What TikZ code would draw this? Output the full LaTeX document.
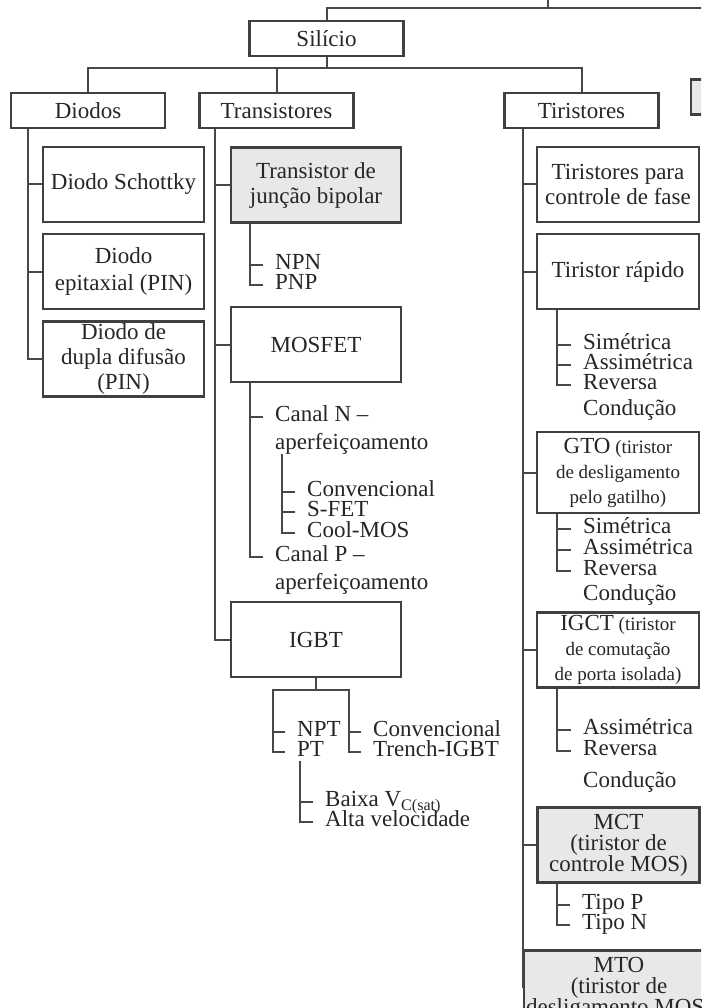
\documentclass[tikz,border=0pt]{standalone}
\usepackage{fontspec}
\setmainfont{Liberation Serif}
\usetikzlibrary{positioning}

\begin{document}
\begin{tikzpicture}[x=1pt, y=-1pt,
    every node/.style={text=black!85, font=\fontsize{23}{25}\selectfont},
    box/.style={rectangle, draw=black!75, line width=2.2pt, align=center, inner sep=2pt, minimum height=75pt},
    top/.style={box, minimum width=154pt, minimum height=35pt},
    dio/.style={box, minimum width=161pt, font=\fontsize{23}{27}\selectfont},
    tra/.style={box, minimum width=170pt},
    tir/.style={box, minimum width=162pt},
    shade/.style={fill=black!9},
    tight/.style={font=\fontsize{23}{21}\selectfont},
    small/.style={font=\fontsize{19}{25}\selectfont},
    item/.style={anchor=west, inner xsep=12pt, inner ysep=0pt, text height=13pt, text depth=4pt},
    line/.style={draw=black!72, line width=2pt}
  ]
  \useasboundingbox (0,0) rectangle (701,1008);
  \fill[white] (0,0) rectangle (701,1008);
  \clip (0,0) rectangle (701,1008);

  \node[top] (silicio) at (326.5,38.5) {Silício};
  \node[top] (diodos) at (88,110.5) {Diodos};
  \node[top] (transistores) at (276.5,110.5) {Transistores};
  \node[top] (tiristores) at (581.5,110.5) {Tiristores};
  \node[top, shade] (outro) at (768,97) {};

  \coordinate (raiz) at (548,-10);
  \coordinate (barra) at (548,8);
  \coordinate (ramo) at (silicio.south |- 0,68);

  \draw[line] (raiz) -- (barra);
  \draw[line] (barra) -| (silicio.north);
  \draw[line] (barra) -| (outro.north);
  \draw[line] (silicio.south) -- (ramo);
  \draw[line] (ramo) -| (diodos.north);
  \draw[line] (ramo) -| (transistores.north);
  \draw[line] (ramo) -| (tiristores.north);

  % diodos
  \node[dio] (schottky) at (123.5,184.5) {Diodo Schottky};
  \node[dio] (epitaxial) at (123.5,271.5) {Diodo\\epitaxial (PIN)};
  \node[dio, inner ysep=0pt, font=\fontsize{23}{25}\selectfont] (dupla) at (123.5,359) {Diodo de\\dupla difusão\\(PIN)};

  \draw[line] (diodos.south -| 28,0) |- (dupla.west);
  \draw[line] (schottky.west) -- (schottky.west -| 28,0);
  \draw[line] (epitaxial.west) -- (epitaxial.west -| 28,0);

  % transistores
  \node[tra, shade] (bjt) at (316,185) {Transistor de\\junção bipolar};
  \node[tra] (mosfet) at (316,344.5) {MOSFET};
  \node[tra] (igbt) at (316,639.5) {IGBT};

  \draw[line] (transistores.south -| 215,0) |- (igbt.west);
  \draw[line] (bjt.west) -- (bjt.west -| 215,0);
  \draw[line] (mosfet.west) -- (mosfet.west -| 215,0);

  \node[item] (npn) at (263,265) {NPN};
  \node[item] (pnp) at (263,285) {PNP};
  \draw[line] (bjt.south -| 250,0) |- (pnp.west);
  \draw[line] (npn.west) -- (npn.west -| 250,0);

  \node[item] (canaln) at (263,417) {Canal N –};
  \node[item] (canalnb) at (263,445) {aperfeiçoamento};
  \node[item] (conv) at (295,492) {Convencional};
  \node[item] (sfet) at (295,512) {S-FET};
  \node[item] (coolmos) at (295,533) {Cool-MOS};
  \node[item] (canalp) at (263,557) {Canal P –};
  \node[item] (canalpb) at (263,585) {aperfeiçoamento};
  \draw[line] (mosfet.south -| 250,0) |- (canalp.west);
  \draw[line] (canaln.west) -- (canaln.west -| 250,0);
  \draw[line] (canalnb.south -| 282,0) |- (coolmos.west);
  \draw[line] (conv.west) -- (conv.west -| 282,0);
  \draw[line] (sfet.west) -- (sfet.west -| 282,0);

  \coordinate (igbtbus) at (igbt.south |- 0,690);
  \node[item] (npt) at (285,732) {NPT};
  \node[item] (pt) at (285,752) {PT};
  \node[item] (conv2) at (361,732) {Convencional};
  \node[item] (trench) at (361,752) {Trench-IGBT};
  \draw[line] (igbt.south) -- (igbtbus);
  \draw[line] (igbtbus) -| (pt.west -| 273,0) -- (pt.west);
  \draw[line] (igbtbus) -| (trench.west -| 349,0) -- (trench.west);
  \draw[line] (npt.west) -- (npt.west -| 273,0);
  \draw[line] (conv2.west) -- (conv2.west -| 349,0);

  \node[item] (baixa) at (313,802) {Baixa V\textsubscript{C(sat)}};
  \node[item] (alta) at (313,822) {Alta velocidade};
  \draw[line] (pt.south -| 300,0) |- (alta.west);
  \draw[line] (baixa.west) -- (baixa.west -| 300,0);

  % tiristores
  \node[tir] (fase) at (618,184.5) {Tiristores para\\controle de fase};
  \node[tir] (rapido) at (618,271.5) {Tiristor rápido};
  \node[tir, small, minimum height=81pt] (gto) at (618,472.5) {{\fontsize{23}{25}\selectfont GTO} (tiristor\\de desligamento\\pelo gatilho)};
  \node[tir, small] (igct) at (618,650) {{\fontsize{23}{27}\selectfont IGCT} (tiristor\\de comutação\\de porta isolada)};
  \node[tir, shade, tight] (mct) at (618.5,845) {MCT\\(tiristor de\\controle MOS)};
  \node[tir, shade, tight] (mto) at (619,988) {MTO\\(tiristor de\\desligamento MOS)};

  \draw[line] (tiristores.south -| 523,0) |- (mto.west);
  \draw[line] (fase.west) -- (fase.west -| 523,0);
  \draw[line] (rapido.west) -- (rapido.west -| 523,0);
  \draw[line] (gto.west) -- (gto.west -| 523,0);
  \draw[line] (igct.west) -- (igct.west -| 523,0);
  \draw[line] (mct.west) -- (mct.west -| 523,0);

  \node[item] (sim1) at (571,345) {Simétrica};
  \node[item] (ass1) at (571,365) {Assimétrica};
  \node[item] (rev1) at (571,385) {Reversa};
  \node[item] (cond1) at (571,411) {Condução};
  \draw[line] (rapido.south -| 557,0) |- (rev1.west);
  \draw[line] (sim1.west) -- (sim1.west -| 557,0);
  \draw[line] (ass1.west) -- (ass1.west -| 557,0);

  \node[item] (sim2) at (571,529) {Simétrica};
  \node[item] (ass2) at (571,550) {Assimétrica};
  \node[item] (rev2) at (571,571) {Reversa};
  \node[item] (cond2) at (571,596) {Condução};
  \draw[line] (gto.south -| 557,0) |- (rev2.west);
  \draw[line] (sim2.west) -- (sim2.west -| 557,0);
  \draw[line] (ass2.west) -- (ass2.west -| 557,0);

  \node[item] (ass3) at (571,730) {Assimétrica};
  \node[item] (rev3) at (571,751) {Reversa};
  \node[item] (cond3) at (571,783) {Condução};
  \draw[line] (igct.south -| 557,0) |- (rev3.west);
  \draw[line] (ass3.west) -- (ass3.west -| 557,0);

  \node[item] (tipop) at (570,905) {Tipo P};
  \node[item] (tipon) at (570,925) {Tipo N};
  \draw[line] (mct.south -| 557,0) |- (tipon.west);
  \draw[line] (tipop.west) -- (tipop.west -| 557,0);
\end{tikzpicture}
\end{document}
